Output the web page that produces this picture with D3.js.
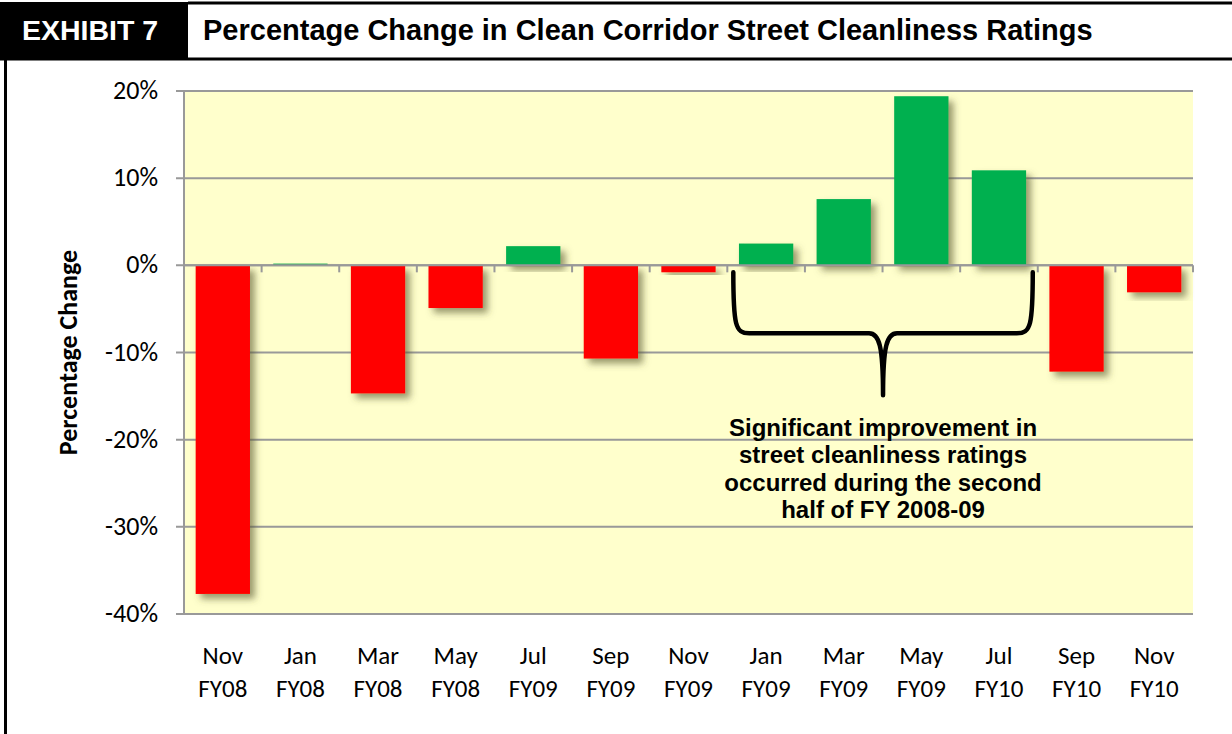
<!DOCTYPE html>
<html>
<head>
<meta charset="utf-8">
<script src="https://cdn.jsdelivr.net/npm/d3@7"></script>
<style>
  html, body { margin: 0; padding: 0; background: #fff; }
  svg { display: block; }
</style>
</head>
<body>
<svg id="chart" width="1232" height="734"></svg>
<script>
const months = ["Nov", "Jan", "Mar", "May", "Jul", "Sep", "Nov", "Jan", "Mar", "May", "Jul", "Sep", "Nov"];
const fiscalYears = ["FY08", "FY08", "FY08", "FY08", "FY09", "FY09", "FY09", "FY09", "FY09", "FY09", "FY10", "FY10", "FY10"];
const pctChange = [-37.7, 0.2, -14.7, -4.9, 2.2, -10.7, -0.8, 2.5, 7.6, 19.4, 10.9, -12.2, -3.1];
const yTicks = [20, 10, 0, -10, -20, -30, -40];
const noteLines = ["Significant improvement in", "street cleanliness ratings", "occurred during the second", "half of FY 2008-09"];
const braceFrom = 7, braceTo = 10; // categories covered by the brace

const svg = d3.select("#chart");
const W = 1232, H = 734;
const plot = {left: 184, right: 1193, top: 91, bottom: 614};
const calibri = "Carlito, Calibri, Lato, sans-serif";
const arial = "Arial, 'Liberation Sans', sans-serif";

const cats = d3.range(months.length);
const x = d3.scaleBand().domain(cats).range([plot.left, plot.right]).padding(0);
const y = d3.scaleLinear().domain([-40, 20]).range([plot.bottom, plot.top]);
const step = x.step();

// shadow for the bars
const defs = svg.append("defs");
const f = defs.append("filter").attr("id", "shadow")
  .attr("x", "-20%").attr("y", "-20%").attr("width", "150%").attr("height", "150%");
f.append("feDropShadow")
  .attr("dx", 5).attr("dy", 5)
  .attr("stdDeviation", 3.5)
  .attr("flood-color", "#55552e")
  .attr("flood-opacity", 0.6);

// ---- header / frame ----
svg.append("rect").attr("x", 0).attr("y", 2).attr("width", 188).attr("height", 58).attr("fill", "#000");
svg.append("line").attr("x1", 188).attr("x2", W).attr("y1", 3).attr("y2", 3)
  .attr("stroke", "#000").attr("stroke-width", 3);
svg.append("line").attr("x1", 0).attr("x2", W).attr("y1", 59).attr("y2", 59)
  .attr("stroke", "#000").attr("stroke-width", 3);
svg.append("line").attr("x1", 5.5).attr("x2", 5.5).attr("y1", 59).attr("y2", H)
  .attr("stroke", "#000").attr("stroke-width", 3);

svg.append("text").attr("x", 22).attr("y", 40)
  .attr("fill", "#fff").style("font-family", arial).style("font-weight", "bold").style("font-size", "28.5px")
  .text("EXHIBIT 7");
svg.append("text").attr("x", 203).attr("y", 40)
  .attr("fill", "#000").style("font-family", arial).style("font-weight", "bold").style("font-size", "29px")
  .text("Percentage Change in Clean Corridor Street Cleanliness Ratings");

// ---- plot area ----
svg.append("rect")
  .attr("x", plot.left).attr("y", plot.top)
  .attr("width", plot.right - plot.left).attr("height", plot.bottom - plot.top)
  .attr("fill", "#FFFFCC");

const grid = svg.append("g");
grid.selectAll("line").data(yTicks).enter().append("line")
  .attr("x1", plot.left - 8).attr("x2", plot.right)
  .attr("y1", d => y(d)).attr("y2", d => y(d))
  .attr("stroke", "#999999").attr("stroke-width", 2);

svg.append("line")
  .attr("x1", plot.left).attr("x2", plot.left)
  .attr("y1", plot.top).attr("y2", plot.bottom)
  .attr("stroke", "#999999").attr("stroke-width", 2);

svg.append("g").selectAll("text").data(yTicks).enter().append("text")
  .attr("x", 158).attr("y", d => y(d) + 8)
  .attr("text-anchor", "end")
  .style("font-family", calibri).style("font-size", "26px").attr("fill", "#000")
  .text(d => d + "%");

svg.append("text")
  .attr("transform", "translate(77," + ((plot.top + plot.bottom) / 2) + ") rotate(-90)")
  .attr("text-anchor", "middle")
  .style("font-family", calibri).style("font-weight", "bold").style("font-size", "26px")
  .text("Percentage Change");

// ---- bars ----
svg.append("g").selectAll("rect").data(pctChange).enter().append("rect")
  .attr("x", (d, i) => x(i) + step * 0.15)
  .attr("width", step * 0.7)
  .attr("y", d => y(Math.max(0, d)))
  .attr("height", d => Math.abs(y(d) - y(0)))
  .attr("fill", d => d < 0 ? "#FF0000" : "#00B050")
  .attr("filter", "url(#shadow)");

// category axis on the zero line, ticks between categories
svg.append("line")
  .attr("x1", plot.left).attr("x2", plot.right)
  .attr("y1", y(0)).attr("y2", y(0))
  .attr("stroke", "#999999").attr("stroke-width", 2);
svg.append("g").selectAll("line").data(cats.concat([cats.length])).enter().append("line")
  .attr("x1", d => plot.left + d * step).attr("x2", d => plot.left + d * step)
  .attr("y1", y(0)).attr("y2", y(0) + 7)
  .attr("stroke", "#999999").attr("stroke-width", 2);

const xl = svg.append("g").selectAll("text").data(cats).enter().append("text")
  .attr("text-anchor", "middle")
  .style("font-family", calibri).style("font-size", "25px").attr("fill", "#000");
xl.append("tspan").attr("x", d => x(d) + step / 2).attr("y", 664).text(d => months[d]);
xl.append("tspan").attr("x", d => x(d) + step / 2).attr("y", 697).text(d => fiscalYears[d]);

// ---- brace + note ----
const bl = x(braceFrom) + 6, br = x(braceTo) + step - 5;
const bc = (bl + br) / 2;
const bt = y(0) + 7, bm = y(-7.8), bb = y(-14.9);
const brace = d3.path();
brace.moveTo(bl, bt);
brace.bezierCurveTo(bl, bm - 8, bl + 2, bm, bl + 16, bm);
brace.lineTo(bc - 14, bm);
brace.bezierCurveTo(bc - 4, bm, bc, bm + 12, bc, bb);
brace.bezierCurveTo(bc, bm + 12, bc + 4, bm, bc + 14, bm);
brace.lineTo(br - 16, bm);
brace.bezierCurveTo(br - 2, bm, br, bm - 8, br, bt);
svg.append("path").attr("d", brace.toString())
  .attr("fill", "none").attr("stroke", "#000").attr("stroke-width", 4.5)
  .attr("stroke-linecap", "round").attr("stroke-linejoin", "round");

svg.append("g").selectAll("text").data(noteLines).enter().append("text")
  .attr("x", bc).attr("y", (d, i) => 436 + i * 27.3)
  .attr("text-anchor", "middle")
  .style("font-family", arial).style("font-weight", "bold").style("font-size", "24px")
  .text(d => d);
</script>
</body>
</html>
